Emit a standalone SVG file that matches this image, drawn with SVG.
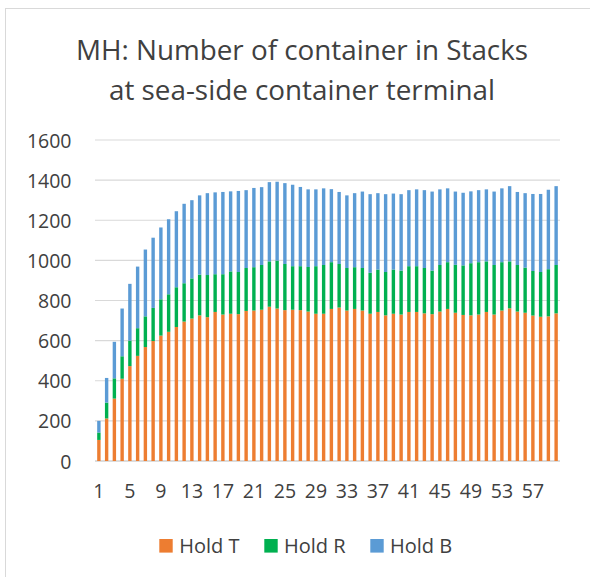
<svg xmlns="http://www.w3.org/2000/svg" width="590" height="577" viewBox="0 0 590 577">
<style>
text{font-family:"Open Sans","Noto Sans","Liberation Sans",sans-serif;fill:#404040}
.title{font-size:28px}
.ax{font-size:19.5px}
.lg{font-size:20px}
.grid{stroke:#d9d9d9;stroke-width:1.2}
.t{fill:#ED7D31}.r{fill:#00B050}.b{fill:#5B9BD5}
</style>
<rect x="0" y="0" width="590" height="577" fill="#ffffff"/>
<rect x="5.5" y="8.5" width="600" height="600" fill="none" stroke="#d9d9d9" stroke-width="1"/>
<g id="title">
<text class="title" x="302" y="60" text-anchor="middle" textLength="452" lengthAdjust="spacingAndGlyphs">MH: Number of container in Stacks</text>
<text class="title" x="302" y="100" text-anchor="middle" textLength="386" lengthAdjust="spacingAndGlyphs">at sea-side container terminal</text>
</g>
<g id="gridlines">
<line class="grid" x1="95" x2="560" y1="140" y2="140"/>
<line class="grid" x1="95" x2="560" y1="180.1" y2="180.1"/>
<line class="grid" x1="95" x2="560" y1="220.25" y2="220.25"/>
<line class="grid" x1="95" x2="560" y1="260.4" y2="260.4"/>
<line class="grid" x1="95" x2="560" y1="300.5" y2="300.5"/>
<line class="grid" x1="95" x2="560" y1="340.6" y2="340.6"/>
<line class="grid" x1="95" x2="560" y1="380.75" y2="380.75"/>
<line class="grid" x1="95" x2="560" y1="420.9" y2="420.9"/>
<line x1="95" x2="560" y1="461" y2="461" stroke="#d0d0d0" stroke-width="1.5"/>
</g>
<g id="y-labels" text-anchor="end">
<text class="ax" x="71.5" y="147.5">1600</text>
<text class="ax" x="71.5" y="187.6">1400</text>
<text class="ax" x="71.5" y="227.7">1200</text>
<text class="ax" x="71.5" y="267.9">1000</text>
<text class="ax" x="71.5" y="308">800</text>
<text class="ax" x="71.5" y="348.1">600</text>
<text class="ax" x="71.5" y="388.2">400</text>
<text class="ax" x="71.5" y="428.4">200</text>
<text class="ax" x="71.5" y="468.5">0</text>
</g>
<g id="x-labels" text-anchor="middle">
<text class="ax" x="98.9" y="498">1</text>
<text class="ax" x="129.9" y="498">5</text>
<text class="ax" x="160.9" y="498">9</text>
<text class="ax" x="191.9" y="498">13</text>
<text class="ax" x="222.9" y="498">17</text>
<text class="ax" x="253.9" y="498">21</text>
<text class="ax" x="284.9" y="498">25</text>
<text class="ax" x="315.9" y="498">29</text>
<text class="ax" x="346.9" y="498">33</text>
<text class="ax" x="377.9" y="498">37</text>
<text class="ax" x="408.9" y="498">41</text>
<text class="ax" x="439.9" y="498">45</text>
<text class="ax" x="470.9" y="498">49</text>
<text class="ax" x="501.9" y="498">53</text>
<text class="ax" x="532.9" y="498">57</text>
</g>
<g id="bars" transform="translate(0,461) scale(1,-0.200625)">
<g id="bar1" transform="translate(97.18,0)"><rect class="t" width="3.4" height="105"/><rect class="r" width="3.4" y="105" height="37"/><rect class="b" width="3.4" y="142" height="58"/></g>
<g id="bar2" transform="translate(104.93,0)"><rect class="t" width="3.4" height="212"/><rect class="r" width="3.4" y="212" height="79"/><rect class="b" width="3.4" y="291" height="123"/></g>
<g id="bar3" transform="translate(112.68,0)"><rect class="t" width="3.4" height="311"/><rect class="r" width="3.4" y="311" height="101"/><rect class="b" width="3.4" y="412" height="182"/></g>
<g id="bar4" transform="translate(120.43,0)"><rect class="t" width="3.4" height="410"/><rect class="r" width="3.4" y="410" height="112"/><rect class="b" width="3.4" y="522" height="238"/></g>
<g id="bar5" transform="translate(128.18,0)"><rect class="t" width="3.4" height="473"/><rect class="r" width="3.4" y="473" height="127"/><rect class="b" width="3.4" y="600" height="283"/></g>
<g id="bar6" transform="translate(135.93,0)"><rect class="t" width="3.4" height="524"/><rect class="r" width="3.4" y="524" height="138"/><rect class="b" width="3.4" y="662" height="307"/></g>
<g id="bar7" transform="translate(143.68,0)"><rect class="t" width="3.4" height="568"/><rect class="r" width="3.4" y="568" height="153"/><rect class="b" width="3.4" y="721" height="333"/></g>
<g id="bar8" transform="translate(151.43,0)"><rect class="t" width="3.4" height="598"/><rect class="r" width="3.4" y="598" height="165"/><rect class="b" width="3.4" y="763" height="350"/></g>
<g id="bar9" transform="translate(159.18,0)"><rect class="t" width="3.4" height="625"/><rect class="r" width="3.4" y="625" height="181"/><rect class="b" width="3.4" y="806" height="358"/></g>
<g id="bar10" transform="translate(166.93,0)"><rect class="t" width="3.4" height="644"/><rect class="r" width="3.4" y="644" height="187"/><rect class="b" width="3.4" y="831" height="374"/></g>
<g id="bar11" transform="translate(174.68,0)"><rect class="t" width="3.4" height="668"/><rect class="r" width="3.4" y="668" height="198"/><rect class="b" width="3.4" y="866" height="379"/></g>
<g id="bar12" transform="translate(182.43,0)"><rect class="t" width="3.4" height="695"/><rect class="r" width="3.4" y="695" height="191"/><rect class="b" width="3.4" y="886" height="396"/></g>
<g id="bar13" transform="translate(190.18,0)"><rect class="t" width="3.4" height="710"/><rect class="r" width="3.4" y="710" height="200"/><rect class="b" width="3.4" y="910" height="390"/></g>
<g id="bar14" transform="translate(197.93,0)"><rect class="t" width="3.4" height="726"/><rect class="r" width="3.4" y="726" height="203"/><rect class="b" width="3.4" y="929" height="395"/></g>
<g id="bar15" transform="translate(205.68,0)"><rect class="t" width="3.4" height="717"/><rect class="r" width="3.4" y="717" height="210"/><rect class="b" width="3.4" y="927" height="408"/></g>
<g id="bar16" transform="translate(213.43,0)"><rect class="t" width="3.4" height="743"/><rect class="r" width="3.4" y="743" height="188"/><rect class="b" width="3.4" y="931" height="408"/></g>
<g id="bar17" transform="translate(221.18,0)"><rect class="t" width="3.4" height="730"/><rect class="r" width="3.4" y="730" height="201"/><rect class="b" width="3.4" y="931" height="410"/></g>
<g id="bar18" transform="translate(228.93,0)"><rect class="t" width="3.4" height="734"/><rect class="r" width="3.4" y="734" height="211"/><rect class="b" width="3.4" y="945" height="399"/></g>
<g id="bar19" transform="translate(236.68,0)"><rect class="t" width="3.4" height="732"/><rect class="r" width="3.4" y="732" height="210"/><rect class="b" width="3.4" y="942" height="404"/></g>
<g id="bar20" transform="translate(244.43,0)"><rect class="t" width="3.4" height="748"/><rect class="r" width="3.4" y="748" height="214"/><rect class="b" width="3.4" y="962" height="388"/></g>
<g id="bar21" transform="translate(252.18,0)"><rect class="t" width="3.4" height="750"/><rect class="r" width="3.4" y="750" height="216"/><rect class="b" width="3.4" y="966" height="395"/></g>
<g id="bar22" transform="translate(259.93,0)"><rect class="t" width="3.4" height="754"/><rect class="r" width="3.4" y="754" height="223"/><rect class="b" width="3.4" y="977" height="388"/></g>
<g id="bar23" transform="translate(267.68,0)"><rect class="t" width="3.4" height="769"/><rect class="r" width="3.4" y="769" height="226"/><rect class="b" width="3.4" y="995" height="395"/></g>
<g id="bar24" transform="translate(275.43,0)"><rect class="t" width="3.4" height="760"/><rect class="r" width="3.4" y="760" height="239"/><rect class="b" width="3.4" y="999" height="393"/></g>
<g id="bar25" transform="translate(283.18,0)"><rect class="t" width="3.4" height="752"/><rect class="r" width="3.4" y="752" height="230"/><rect class="b" width="3.4" y="982" height="403"/></g>
<g id="bar26" transform="translate(290.93,0)"><rect class="t" width="3.4" height="754"/><rect class="r" width="3.4" y="754" height="217"/><rect class="b" width="3.4" y="971" height="406"/></g>
<g id="bar27" transform="translate(298.68,0)"><rect class="t" width="3.4" height="752"/><rect class="r" width="3.4" y="752" height="219"/><rect class="b" width="3.4" y="971" height="395"/></g>
<g id="bar28" transform="translate(306.43,0)"><rect class="t" width="3.4" height="745"/><rect class="r" width="3.4" y="745" height="222"/><rect class="b" width="3.4" y="967" height="387"/></g>
<g id="bar29" transform="translate(314.18,0)"><rect class="t" width="3.4" height="734"/><rect class="r" width="3.4" y="734" height="237"/><rect class="b" width="3.4" y="971" height="383"/></g>
<g id="bar30" transform="translate(321.93,0)"><rect class="t" width="3.4" height="734"/><rect class="r" width="3.4" y="734" height="243"/><rect class="b" width="3.4" y="977" height="382"/></g>
<g id="bar31" transform="translate(329.68,0)"><rect class="t" width="3.4" height="758"/><rect class="r" width="3.4" y="758" height="233"/><rect class="b" width="3.4" y="991" height="364"/></g>
<g id="bar32" transform="translate(337.43,0)"><rect class="t" width="3.4" height="765"/><rect class="r" width="3.4" y="765" height="217"/><rect class="b" width="3.4" y="982" height="359"/></g>
<g id="bar33" transform="translate(345.18,0)"><rect class="t" width="3.4" height="750"/><rect class="r" width="3.4" y="750" height="212"/><rect class="b" width="3.4" y="962" height="362"/></g>
<g id="bar34" transform="translate(352.93,0)"><rect class="t" width="3.4" height="758"/><rect class="r" width="3.4" y="758" height="208"/><rect class="b" width="3.4" y="966" height="369"/></g>
<g id="bar35" transform="translate(360.68,0)"><rect class="t" width="3.4" height="750"/><rect class="r" width="3.4" y="750" height="212"/><rect class="b" width="3.4" y="962" height="381"/></g>
<g id="bar36" transform="translate(368.43,0)"><rect class="t" width="3.4" height="734"/><rect class="r" width="3.4" y="734" height="204"/><rect class="b" width="3.4" y="938" height="392"/></g>
<g id="bar37" transform="translate(376.18,0)"><rect class="t" width="3.4" height="743"/><rect class="r" width="3.4" y="743" height="211"/><rect class="b" width="3.4" y="954" height="381"/></g>
<g id="bar38" transform="translate(383.93,0)"><rect class="t" width="3.4" height="726"/><rect class="r" width="3.4" y="726" height="216"/><rect class="b" width="3.4" y="942" height="388"/></g>
<g id="bar39" transform="translate(391.68,0)"><rect class="t" width="3.4" height="734"/><rect class="r" width="3.4" y="734" height="220"/><rect class="b" width="3.4" y="954" height="379"/></g>
<g id="bar40" transform="translate(399.43,0)"><rect class="t" width="3.4" height="730"/><rect class="r" width="3.4" y="730" height="219"/><rect class="b" width="3.4" y="949" height="381"/></g>
<g id="bar41" transform="translate(407.18,0)"><rect class="t" width="3.4" height="743"/><rect class="r" width="3.4" y="743" height="228"/><rect class="b" width="3.4" y="971" height="379"/></g>
<g id="bar42" transform="translate(414.93,0)"><rect class="t" width="3.4" height="743"/><rect class="r" width="3.4" y="743" height="228"/><rect class="b" width="3.4" y="971" height="383"/></g>
<g id="bar43" transform="translate(422.68,0)"><rect class="t" width="3.4" height="736"/><rect class="r" width="3.4" y="736" height="226"/><rect class="b" width="3.4" y="962" height="388"/></g>
<g id="bar44" transform="translate(430.43,0)"><rect class="t" width="3.4" height="732"/><rect class="r" width="3.4" y="732" height="217"/><rect class="b" width="3.4" y="949" height="394"/></g>
<g id="bar45" transform="translate(438.18,0)"><rect class="t" width="3.4" height="745"/><rect class="r" width="3.4" y="745" height="232"/><rect class="b" width="3.4" y="977" height="377"/></g>
<g id="bar46" transform="translate(445.93,0)"><rect class="t" width="3.4" height="758"/><rect class="r" width="3.4" y="758" height="233"/><rect class="b" width="3.4" y="991" height="368"/></g>
<g id="bar47" transform="translate(453.68,0)"><rect class="t" width="3.4" height="739"/><rect class="r" width="3.4" y="739" height="239"/><rect class="b" width="3.4" y="978" height="365"/></g>
<g id="bar48" transform="translate(461.43,0)"><rect class="t" width="3.4" height="728"/><rect class="r" width="3.4" y="728" height="247"/><rect class="b" width="3.4" y="975" height="362"/></g>
<g id="bar49" transform="translate(469.18,0)"><rect class="t" width="3.4" height="726"/><rect class="r" width="3.4" y="726" height="260"/><rect class="b" width="3.4" y="986" height="358"/></g>
<g id="bar50" transform="translate(476.93,0)"><rect class="t" width="3.4" height="730"/><rect class="r" width="3.4" y="730" height="261"/><rect class="b" width="3.4" y="991" height="359"/></g>
<g id="bar51" transform="translate(484.68,0)"><rect class="t" width="3.4" height="743"/><rect class="r" width="3.4" y="743" height="252"/><rect class="b" width="3.4" y="995" height="359"/></g>
<g id="bar52" transform="translate(492.43,0)"><rect class="t" width="3.4" height="730"/><rect class="r" width="3.4" y="730" height="247"/><rect class="b" width="3.4" y="977" height="366"/></g>
<g id="bar53" transform="translate(500.18,0)"><rect class="t" width="3.4" height="750"/><rect class="r" width="3.4" y="750" height="241"/><rect class="b" width="3.4" y="991" height="368"/></g>
<g id="bar54" transform="translate(507.93,0)"><rect class="t" width="3.4" height="761"/><rect class="r" width="3.4" y="761" height="234"/><rect class="b" width="3.4" y="995" height="375"/></g>
<g id="bar55" transform="translate(515.68,0)"><rect class="t" width="3.4" height="745"/><rect class="r" width="3.4" y="745" height="232"/><rect class="b" width="3.4" y="977" height="364"/></g>
<g id="bar56" transform="translate(523.43,0)"><rect class="t" width="3.4" height="739"/><rect class="r" width="3.4" y="739" height="225"/><rect class="b" width="3.4" y="964" height="371"/></g>
<g id="bar57" transform="translate(531.18,0)"><rect class="t" width="3.4" height="725"/><rect class="r" width="3.4" y="725" height="222"/><rect class="b" width="3.4" y="947" height="384"/></g>
<g id="bar58" transform="translate(538.93,0)"><rect class="t" width="3.4" height="719"/><rect class="r" width="3.4" y="719" height="223"/><rect class="b" width="3.4" y="942" height="389"/></g>
<g id="bar59" transform="translate(546.68,0)"><rect class="t" width="3.4" height="721"/><rect class="r" width="3.4" y="721" height="235"/><rect class="b" width="3.4" y="956" height="396"/></g>
<g id="bar60" transform="translate(554.43,0)"><rect class="t" width="3.4" height="736"/><rect class="r" width="3.4" y="736" height="241"/><rect class="b" width="3.4" y="977" height="393"/></g>
</g>
<g id="legend">
<g id="legend-t"><rect class="t" x="159.3" y="539" width="13.4" height="13.6"/><text class="lg" x="179.3" y="553.3">Hold T</text></g>
<g id="legend-r"><rect class="r" x="264.3" y="539" width="13.4" height="13.6"/><text class="lg" x="284" y="553.3">Hold R</text></g>
<g id="legend-b"><rect class="b" x="370.3" y="539" width="13.4" height="13.6"/><text class="lg" x="390" y="553.3">Hold B</text></g>
</g>
</svg>
